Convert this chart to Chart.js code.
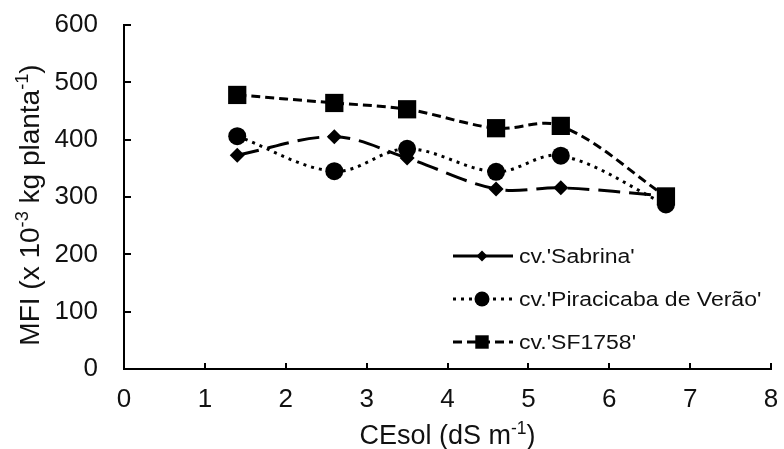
<!DOCTYPE html>
<html><head><meta charset="utf-8">
<script src="https://cdn.jsdelivr.net/npm/chart.js@4/dist/chart.umd.min.js"></script>
<style>html,body{margin:0;padding:0;background:#fff}#wrap{width:784px;height:449px}</style>
</head><body><div id="wrap"><canvas id="c" width="784" height="449"></canvas></div>
<script>
const cesol = [1.4, 2.6, 3.5, 4.6, 5.4, 6.7];
const sabrina = [373, 405, 368, 314, 316, 302];
const piracicaba = [406, 345, 384, 344, 372, 287];
const sf1758 = [478, 464, 453, 420, 424, 301];
const seriesNames = ["cv.'Sabrina'", "cv.'Piracicaba de Verão'", "cv.'SF1758'"];
const xTitleParts = [["CEsol (dS m", false], ["-1", true], [")", false]];
const yTitleParts = [["MFI (x 10", false], ["-3", true], [" kg planta", false], ["-1", true], [")", false]];

const FONT = "'Liberation Sans', Arial, sans-serif";
const TXT = '#111';

function pts(ys){ return cesol.map((x,i)=>({x:x, y:ys[i]})); }

function drawMarker(ctx, style, r, x, y){
  ctx.save();
  ctx.fillStyle = '#000';
  ctx.setLineDash([]);
  ctx.beginPath();
  if (style === 'circle') { ctx.arc(x, y, r, 0, Math.PI*2); }
  else if (style === 'rect') { const s = r*Math.SQRT1_2; ctx.rect(x-s, y-s, 2*s, 2*s); }
  else { ctx.moveTo(x-r,y); ctx.lineTo(x,y-r); ctx.lineTo(x+r,y); ctx.lineTo(x,y+r); ctx.closePath(); }
  ctx.fill();
  ctx.restore();
}

function richWidth(ctx, parts, size){
  let w = 0;
  parts.forEach(([t,sup])=>{ ctx.font = (sup? size*0.65 : size) + 'px ' + FONT; w += ctx.measureText(t).width; });
  return w;
}
function drawRich(ctx, parts, size, x, y){
  let cx = x;
  parts.forEach(([t,sup])=>{
    const fs = sup ? size*0.65 : size;
    ctx.font = fs + 'px ' + FONT;
    ctx.fillText(t, cx, sup ? y - size*0.38 : y);
    cx += ctx.measureText(t).width;
  });
}

const decor = {
  id: 'decor',
  afterDraw(chart){
    const ctx = chart.ctx, a = chart.chartArea;
    ctx.save();
    ctx.fillStyle = TXT;
    ctx.textBaseline = 'alphabetic';
    ctx.textAlign = 'left';
    // x title
    let w = richWidth(ctx, xTitleParts, 27);
    drawRich(ctx, xTitleParts, 27, (a.left + a.right)/2 - w/2, 444);
    // y title
    ctx.save();
    ctx.translate(39, 205);
    ctx.rotate(-Math.PI/2);
    w = richWidth(ctx, yTitleParts, 28);
    drawRich(ctx, yTitleParts, 28, -w/2, 0);
    ctx.restore();
    // legend
    const rows = [256, 299, 342];
    const legendDash = [[], [3,5], [9,5]];
    const legendR = [5.5, 7.5, 9.5];
    chart.data.datasets.forEach((ds, i)=>{
      const y = rows[i];
      ctx.save();
      ctx.strokeStyle = '#000';
      ctx.lineWidth = 3;
      ctx.setLineDash(legendDash[i]);
      ctx.beginPath(); ctx.moveTo(453, y); ctx.lineTo(513, y); ctx.stroke();
      ctx.restore();
      drawMarker(ctx, ds.pointStyle, legendR[i], 482, y);
      ctx.save();
      ctx.fillStyle = TXT;
      ctx.font = '20px ' + FONT;
      ctx.textBaseline = 'middle';
      ctx.translate(519, y + 1);
      ctx.scale(1.15, 1);
      ctx.fillText(ds.label, 0, 0);
      ctx.restore();
    });
    ctx.restore();
  }
};

function zeroPad(s){ s.paddingTop = 0; s.paddingBottom = 0; s.paddingLeft = 0; s.paddingRight = 0; }

const common = { borderColor:'#000', backgroundColor:'#000', pointBackgroundColor:'#000', pointBorderColor:'#000', borderWidth:3, tension:0.35, fill:false, pointBorderWidth:0, clip:false };

new Chart(document.getElementById('c'), {
  type: 'line',
  data: { datasets: [
    Object.assign({}, common, { label: seriesNames[0], data: pts(sabrina), borderDash:[22,9], pointStyle:'rectRot', pointRadius:7.5 }),
    Object.assign({}, common, { label: seriesNames[1], data: pts(piracicaba), borderDash:[3,5], pointStyle:'circle', pointRadius:9 }),
    Object.assign({}, common, { label: seriesNames[2], data: pts(sf1758), borderDash:[9,5], pointStyle:'rect', pointRadius:12.9 })
  ]},
  options: {
    responsive:false, animation:false, devicePixelRatio:1,
    layout:{ padding:{ top:25, right:12, left:0, bottom:0 } },
    plugins:{ legend:{display:false}, tooltip:{enabled:false} },
    elements:{ point:{ hoverRadius:0 } },
    scales:{
      x:{ type:'linear', min:0, max:8,
        ticks:{ stepSize:1, font:{family:FONT, size:26}, color:TXT, padding:21, maxRotation:0 },
        grid:{ drawOnChartArea:false, drawTicks:true, tickLength:-6, color:'#000', lineWidth:2 },
        border:{ color:'#000', width:2 },
        afterFit(s){ s.height = 80; zeroPad(s); } },
      y:{ min:0, max:600,
        ticks:{ stepSize:100, font:{family:FONT, size:26}, color:TXT, padding:33 },
        grid:{ drawOnChartArea:false, drawTicks:true, tickLength:-7, color:'#000', lineWidth:2 },
        border:{ color:'#000', width:2 },
        afterFit(s){ s.width = 124; zeroPad(s); } }
    }
  },
  plugins:[decor]
});
</script></body></html>
